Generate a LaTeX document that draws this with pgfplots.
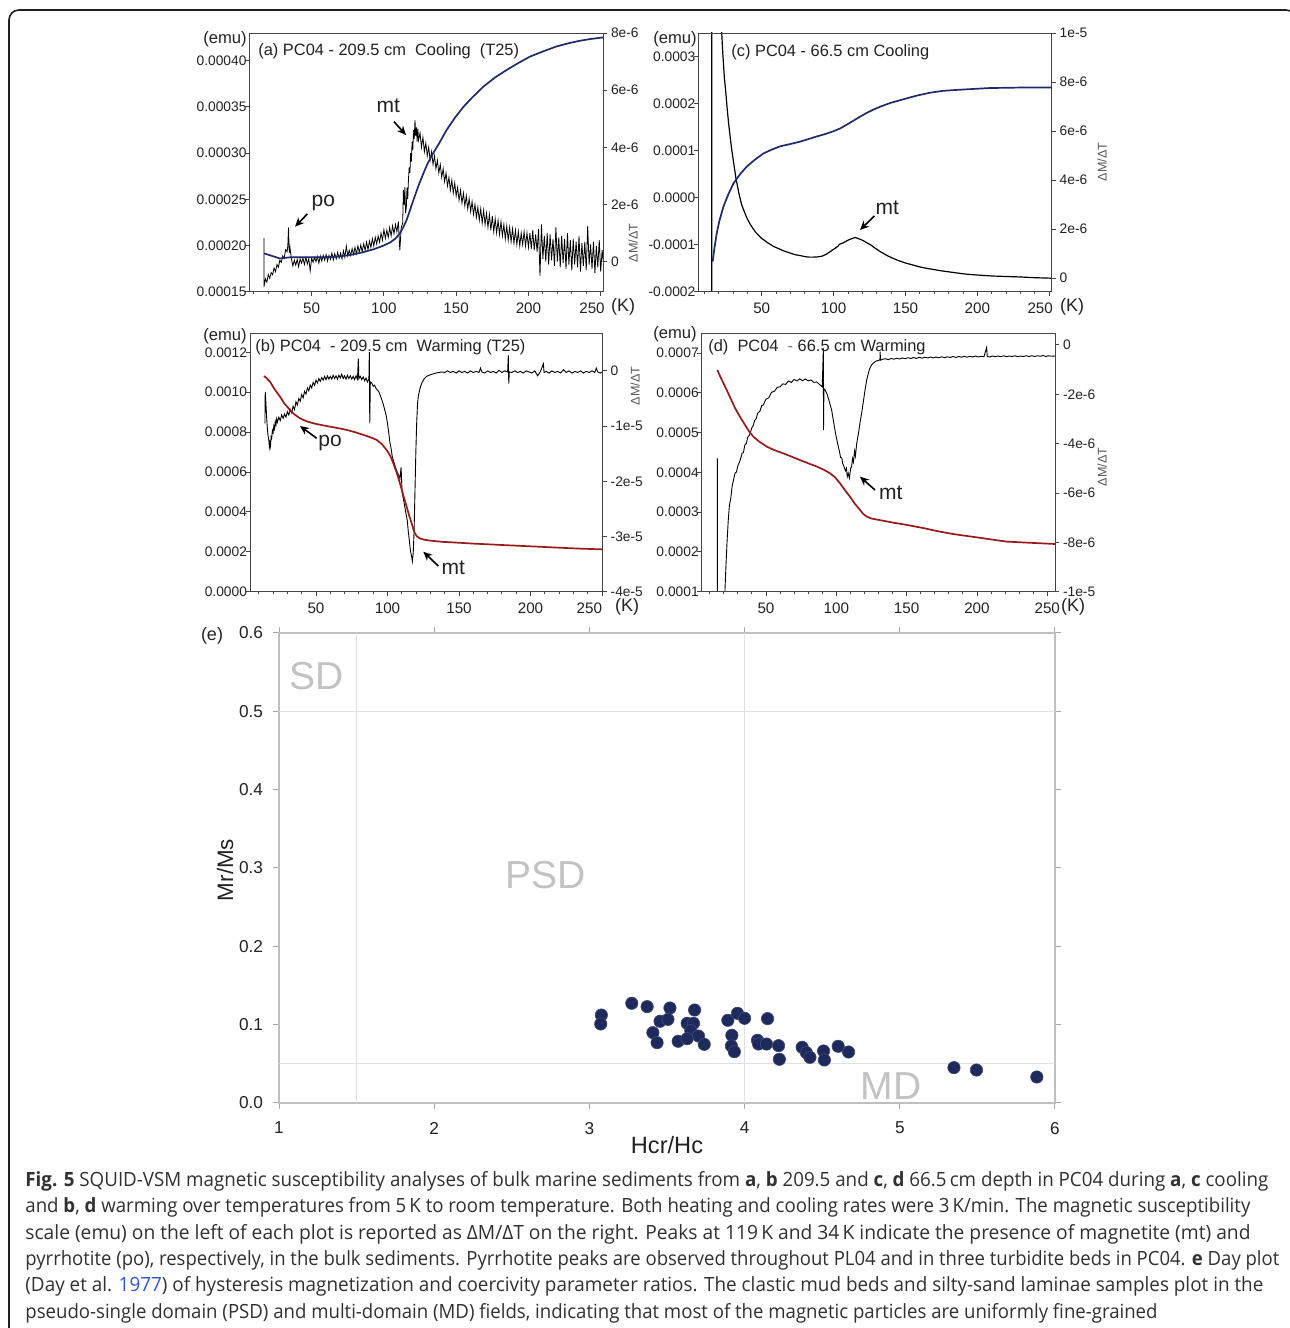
\documentclass[border=0pt]{standalone}
\usepackage{pgfplots}
\pgfplotsset{compat=1.18}
\usepackage{graphicx}
\usepackage{fontspec}
\setmainfont{Liberation Sans}
\newfontfamily\capfont{Open Sans}
\usetikzlibrary{arrows.meta}
\definecolor{navyc}{HTML}{1F2A6B}
\definecolor{redc}{HTML}{9A1A1A}
\definecolor{dots}{HTML}{1F2A5C}
\definecolor{axgray}{HTML}{444444}
\definecolor{zonegray}{HTML}{C2C2C2}
\definecolor{linkblue}{HTML}{2F55D4}
\definecolor{txt}{HTML}{222222}
\definecolor{captxt}{HTML}{303030}
\pgfplotsset{
  panel/.style={scale only axis, anchor=south west, clip=true,
    tick align=outside, major tick length=2.2pt, minor tick length=1.3pt,
    axis line style={draw=axgray, line width=0.45pt},
    tick style={draw=axgray, line width=0.45pt},
    yticklabel style={font=\fontsize{6.9}{7}\selectfont, text=txt},
    xticklabel style={font=\fontsize{7.6}{8}\selectfont, text=txt},
  },
  leftax/.style={panel, xtick pos=left, ytick pos=left, xtick={50,100,150,200,250}, minor xtick={10,20,...,250},
    yticklabel style={inner xsep=0pt, xshift=0.9pt}},
  rightax/.style={panel, hide x axis, ytick pos=right, yticklabel pos=right,
    yticklabel style={inner xsep=1.6pt}},
}
\begin{document}
\begin{tikzpicture}
\useasboundingbox (0,0) rectangle (645pt,664pt);

% ---------------- panel (a) ----------------
\begin{axis}[rightax, at={(124.75pt,518.15pt)}, width=176.75pt, height=129.35pt,
  xmin=7, xmax=251.6, ymin=-1.05, ymax=8, ytick={0,2,4,6,8}, yticklabels={0,2e-6,4e-6,6e-6,8e-6}]
\addplot[black, line width=0.4pt] table[row sep=\\]{
x y\\
17 0.82\\ 17 -0.88\\ 18 -0.6\\ 19 -0.72\\ 20 -0.45\\ 21 -0.58\\ 22 -0.38\\ 23 -0.46\\ 24 -0.22\\ 25 -0.35\\
26 -0.1\\ 27 -0.2\\ 28 0.05\\ 29 -0.02\\ 30 0.2\\ 31 0.12\\ 32 0.42\\ 33 0.35\\ 33.5 0.55\\ 34 1.2\\
34.5 0.3\\ 35 0.5\\ 36 0.1\\ 37 -0.15\\ 38 0.05\\ 39 -0.12\\ 40 0.08\\ 41 -0.18\\ 42 0.1\\ 43 -0.05\\
44 0.12\\ 45 -0.1\\ 46 0.15\\ 47 -0.08\\ 48 0.1\\ 49 -0.32\\ 50 0.12\\ 51 -0.02\\ 52 0.15\\ 53 0.0\\
54 0.18\\ 55 -0.05\\ 56 0.2\\ 57 0.02\\ 58 0.22\\ 59 0.05\\ 60 0.25\\ 61 0.02\\ 62 0.22\\ 63 0.08\\
64 0.3\\ 65 0.06\\ 66 0.28\\ 67 0.1\\ 68 0.32\\ 69 0.12\\ 70 0.3\\ 71 0.1\\ 72 0.38\\ 73 0.15\\
74 0.55\\ 75 0.2\\ 76 0.4\\ 77 0.22\\ 78 0.45\\ 79 0.25\\ 80 0.5\\ 81 0.28\\ 82 0.55\\ 83 0.32\\
84 0.58\\ 85 0.35\\ 86 0.62\\ 87 0.4\\ 88 0.68\\ 89 0.42\\ 90 0.72\\ 91 0.5\\ 92 0.8\\ 93 0.55\\
94 0.85\\ 95 0.62\\ 96 0.9\\ 97 0.68\\ 98 1.0\\ 99 0.75\\ 100 1.12\\ 101 0.82\\ 102 1.1\\ 103 0.85\\
104 1.2\\ 105 0.9\\ 106 1.25\\ 107 0.98\\ 108 1.3\\ 109 1.05\\ 110 1.4\\ 111 0.4\\ 112 1.2\\ 113 1.35\\
113.5 2.5\\ 114 2.0\\ 114.5 2.6\\ 115 1.7\\ 115.5 1.9\\ 116 2.6\\ 116.5 2.2\\ 117 2.9\\ 117.5 3.3\\ 118 3.1\\
118.5 3.8\\ 119 3.5\\ 119.5 4.2\\ 120 3.9\\ 120.5 4.6\\ 121 4.3\\ 121.5 4.95\\ 122 4.4\\ 122.5 4.7\\ 123 4.2\\
123.5 4.65\\ 124 4.25\\ 125 4.5\\ 126 4.0\\ 127 4.35\\ 128 3.85\\ 129 4.15\\ 130 3.7\\ 131 4.0\\ 132 3.55\\
133 3.85\\ 134 3.4\\ 135 3.7\\ 136 3.25\\ 137 3.55\\ 138 3.1\\ 139 3.4\\ 140 2.95\\ 141 3.25\\ 142 2.8\\
143 3.1\\ 144 2.65\\ 145 2.95\\ 146 2.5\\ 147 2.85\\ 148 2.4\\ 149 2.75\\ 150 2.3\\ 151 2.6\\ 152 2.15\\
153 2.5\\ 154 2.05\\ 155 2.4\\ 156 1.95\\ 157 2.3\\ 158 1.85\\ 159 2.2\\ 160 1.75\\ 161 2.1\\ 162 1.65\\
163 2.0\\ 164 1.55\\ 165 1.9\\ 166 1.45\\ 167 1.85\\ 168 1.35\\ 169 1.8\\ 170 1.3\\ 171 1.7\\ 172 1.2\\
173 1.65\\ 174 1.1\\ 175 1.6\\ 176 1.05\\ 177 1.5\\ 178 1.0\\ 179 1.45\\ 180 0.95\\ 181 1.4\\ 182 0.9\\
183 1.3\\ 184 0.8\\ 185 1.25\\ 186 0.75\\ 187 1.2\\ 188 0.7\\ 189 1.15\\ 190 0.65\\ 191 1.1\\ 192 0.6\\
193 1.05\\ 194 0.55\\ 195 1.0\\ 196 0.6\\ 197 1.05\\ 198 0.55\\ 199 1.0\\ 200 0.5\\ 201 1.0\\ 202 0.45\\
203 1.1\\ 204 0.4\\ 205 0.95\\ 206 0.35\\ 207 1.15\\ 208 -0.5\\ 209 1.3\\ 210 0.1\\ 211 0.9\\ 212 0.0\\
213 1.0\\ 214 -0.1\\ 215 0.95\\ 216 0.05\\ 217 0.8\\ 218 -0.15\\ 219 1.2\\ 220 0.0\\ 221 0.85\\ 222 -0.2\\
223 0.9\\ 224 -0.05\\ 225 0.8\\ 226 -0.25\\ 227 1.0\\ 228 -0.1\\ 229 0.75\\ 230 -0.3\\ 231 0.8\\ 232 -0.1\\
233 0.7\\ 234 -0.2\\ 235 0.9\\ 236 -0.35\\ 237 0.65\\ 238 -0.15\\ 239 0.7\\ 240 -0.3\\ 241 1.25\\ 242 -0.1\\
243 0.6\\ 244 -0.25\\ 245 0.7\\ 246 -0.4\\ 247 0.55\\ 248 -0.2\\ 249 0.75\\ 250 -0.35\\ 251 0.4\\ 252 -0.1\\
};
\end{axis}
\begin{axis}[leftax, at={(124.75pt,518.15pt)}, width=176.75pt, height=129.35pt,
  xmin=7, xmax=251.6, ymin=15, ymax=43, ytick={15,20,25,30,35,40},
  yticklabels={0.00015,0.00020,0.00025,0.00030,0.00035,0.00040},
  xticklabels={50,100,150,200,{\makebox[0pt][r]{250\hspace*{-2pt}}}}]
\addplot[navyc, line width=0.85pt] table[row sep=\\]{
x y\\
17 19.15\\ 22 18.9\\ 28 18.6\\ 35 18.72\\ 45 18.72\\ 58 18.72\\ 68 18.8\\ 76.5 18.97\\ 85 19.25\\ 92.7 19.58\\
99 19.95\\ 104 20.3\\ 108 20.75\\ 111 21.3\\ 113.5 22.0\\ 115.7 22.76\\ 118 23.8\\ 120.4 24.92\\ 124 26.5\\ 127.3 27.8\\
130 28.8\\ 134 29.97\\ 138 31.0\\ 143.4 32.5\\ 149 33.8\\ 155 35.0\\ 161 36.0\\ 168.8 37.19\\ 177 38.2\\ 185 39.0\\
193 39.75\\ 201 40.44\\ 210 41.0\\ 219.5 41.55\\ 228 41.9\\ 235.7 42.16\\ 243 42.35\\ 251.6 42.52\\
};
\end{axis}

% ---------------- panel (c) ----------------
\begin{axis}[rightax, at={(349.15pt,518.15pt)}, width=176.7pt, height=129.35pt,
  xmin=5.9, xmax=251.7, ymin=-0.55, ymax=10, ytick={0,2,4,6,8,10}, yticklabels={0,2e-6,4e-6,6e-6,8e-6,1e-5}]
\addplot[black, line width=0.6pt] table[row sep=\\]{
x y\\
15.2 -0.6\\ 15.2 12\\ 21.5 12\\ 22.2 10.0\\ 23 9.1\\ 24 8.2\\ 25 7.6\\ 26 6.9\\ 27 6.3\\ 28 5.8\\
29 5.3\\ 30 4.9\\ 31 4.5\\ 32 4.1\\ 33 3.8\\ 34 3.5\\ 35 3.25\\ 36 3.0\\ 37 2.85\\ 38 2.7\\
39 2.55\\ 40 2.42\\ 42 2.2\\ 44 2.02\\ 46 1.86\\ 48 1.74\\ 50 1.62\\ 52 1.54\\ 54 1.45\\ 56 1.38\\
58 1.3\\ 60 1.25\\ 62 1.2\\ 65 1.12\\ 68 1.06\\ 71 1.0\\ 74 0.95\\ 77 0.92\\ 80 0.88\\ 83 0.86\\
86 0.86\\ 89 0.87\\ 92 0.9\\ 95 0.98\\ 98 1.1\\ 101 1.22\\ 103 1.3\\ 104 1.38\\ 107 1.45\\ 110 1.55\\
113 1.62\\ 115 1.66\\ 117 1.62\\ 120 1.55\\ 123 1.45\\ 126 1.35\\ 129 1.22\\ 132 1.1\\ 135 1.0\\ 138 0.9\\
141 0.82\\ 145 0.72\\ 150 0.62\\ 155 0.54\\ 160 0.46\\ 165 0.4\\ 170 0.35\\ 175 0.3\\ 180 0.26\\ 185 0.22\\
190 0.18\\ 195 0.15\\ 200 0.13\\ 210 0.09\\ 220 0.07\\ 230 0.05\\ 240 0.02\\ 251.7 0.0\\
};
\end{axis}
\begin{axis}[leftax, at={(349.15pt,518.15pt)}, width=176.7pt, height=129.35pt,
  xmin=5.9, xmax=251.7, ymin=-2, ymax=3.5, ytick={-2,-1,0,1,2,3},
  yticklabels={-0.0002,-0.0001,0.0000,0.0001,0.0002,0.0003},
  xticklabels={50,100,150,200,{\makebox[0pt][r]{250\hspace*{-1.8pt}}}}]
\addplot[navyc, line width=0.85pt] table[row sep=\\]{
x y\\
15.9 -1.36\\ 17 -1.1\\ 18.7 -0.76\\ 20.5 -0.5\\ 23.4 -0.19\\ 26.5 0.05\\ 30.3 0.30\\ 35 0.5\\ 39.6 0.66\\ 45 0.8\\
51.2 0.94\\ 57 1.02\\ 62.7 1.09\\ 70 1.14\\ 76.6 1.19\\ 82 1.24\\ 88.2 1.30\\ 94 1.35\\ 99.8 1.41\\ 104.5 1.47\\
109.1 1.55\\ 113.5 1.63\\ 118.3 1.72\\ 123 1.80\\ 127.6 1.87\\ 133 1.94\\ 139.2 2.01\\ 145 2.06\\ 150.8 2.11\\ 158 2.17\\
167 2.23\\ 176 2.27\\ 185.5 2.29\\ 197 2.31\\ 208.7 2.33\\ 230 2.34\\ 251.7 2.34\\
};
\end{axis}

% ---------------- panel (b) ----------------
\begin{axis}[rightax, at={(125pt,368.15pt)}, width=176.35pt, height=129.2pt,
  xmin=3.85, xmax=250.5, ymin=-4, ymax=0.68, ytick={-4,-3,-2,-1,0}, yticklabels={-4e-5,-3e-5,-2e-5,-1e-5,0}]
\addplot[black, line width=0.45pt] table[row sep=\\]{
x y\\
14.3 -0.95\\ 14.5 -0.38\\ 15 -0.6\\ 15.5 -0.85\\ 16 -1.05\\ 16.5 -1.18\\ 17 -1.25\\ 17.4 -1.38\\ 17.8 -1.3\\ 18.2 -1.36\\
18.6 -1.2\\ 19 -1.22\\ 19.5 -1.08\\ 20 -1.12\\ 20.5 -1.0\\ 21 -1.05\\ 21.5 -0.92\\ 22 -0.98\\ 22.5 -0.87\\ 23 -0.93\\
24 -0.84\\ 25 -0.9\\ 26 -0.8\\ 27 -0.86\\ 28 -0.78\\ 29 -0.84\\ 30 -0.74\\ 31 -0.8\\ 32 -0.7\\ 33 -0.76\\
34 -0.64\\ 35 -0.7\\ 36 -0.56\\ 37 -0.62\\ 38 -0.5\\ 39 -0.55\\ 40 -0.43\\ 41 -0.49\\ 42 -0.37\\ 43 -0.42\\
44 -0.31\\ 45 -0.36\\ 46 -0.26\\ 47 -0.31\\ 48 -0.21\\ 49 -0.26\\ 50 -0.17\\ 51 -0.22\\ 52 -0.14\\ 53 -0.19\\
54 -0.12\\ 55 -0.17\\ 56 -0.1\\ 57 -0.16\\ 58 -0.09\\ 59 -0.15\\ 60 -0.1\\ 61 -0.15\\ 62 -0.08\\ 63 -0.14\\
64 -0.09\\ 65 -0.15\\ 66 -0.08\\ 67 -0.13\\ 68 -0.06\\ 69 -0.14\\ 70 -0.09\\ 71 -0.15\\ 72 -0.08\\ 73 -0.14\\
74 -0.09\\ 75 -0.15\\ 76 -0.1\\ 77 -0.16\\ 78 -0.09\\ 79 -0.15\\ 79.6 0.22\\ 80 -0.14\\ 81 -0.1\\ 82 -0.16\\
83 -0.11\\ 84 -0.18\\ 85 -0.13\\ 86 -0.2\\ 87 -0.15\\ 87.3 0.34\\ 87.6 -0.95\\ 88 -0.2\\ 89 -0.22\\ 90 -0.28\\
91 -0.26\\ 92 -0.32\\ 93 -0.35\\ 94 -0.38\\ 95 -0.45\\ 96 -0.52\\ 97 -0.6\\ 98 -0.7\\ 99 -0.8\\ 100 -0.95\\
101 -1.15\\ 101.7 -1.3\\ 102.5 -1.4\\ 103.3 -1.55\\ 104.1 -1.62\\ 105 -1.7\\ 106 -1.78\\ 107 -1.85\\ 108 -1.9\\ 108.7 -1.95\\
109.5 -1.75\\ 110.2 -2.2\\ 111 -2.3\\ 112 -2.45\\ 113 -2.6\\ 113.8 -2.7\\ 114.5 -2.9\\ 115.2 -3.05\\ 116 -3.25\\ 116.8 -3.35\\
117.4 -3.45\\ 118 -3.3\\ 118.6 -2.9\\ 119.2 -2.2\\ 119.8 -1.5\\ 120.4 -0.95\\ 121 -0.6\\ 121.6 -0.45\\ 122.7 -0.32\\ 124 -0.22\\
125.5 -0.15\\ 127.4 -0.1\\ 130 -0.07\\ 134 -0.04\\ 138 -0.02\\ 140 -0.03\\ 142 0.0\\ 144 -0.03\\ 146 -0.01\\ 148 -0.04\\
150 0.0\\ 152 -0.03\\ 154 -0.01\\ 156 -0.04\\ 158 0.0\\ 160 -0.03\\ 162 -0.01\\ 164 -0.03\\ 165 0.05\\ 166 -0.02\\
168 -0.04\\ 170 0.0\\ 172 -0.03\\ 174 -0.01\\ 176 -0.04\\ 178 0.01\\ 180 -0.03\\ 182 0.0\\ 184 -0.02\\ 184.5 0.28\\
184.8 -0.23\\ 185.2 -0.02\\ 187 -0.03\\ 189 0.0\\ 191 -0.03\\ 193 -0.01\\ 195 -0.04\\ 197 0.0\\ 199 -0.02\\ 201 -0.04\\
203 0.0\\ 205 -0.09\\ 207 -0.01\\ 209 0.13\\ 209.5 -0.03\\ 211 -0.01\\ 213 -0.04\\ 215 0.0\\ 217 -0.03\\ 219 -0.01\\
221 -0.04\\ 223 0.02\\ 225 -0.03\\ 227 0.0\\ 229 -0.04\\ 231 -0.01\\ 233 -0.03\\ 235 0.0\\ 237 -0.04\\ 239 -0.01\\
241 -0.03\\ 243 0.0\\ 245 -0.03\\ 246 0.05\\ 247 -0.02\\ 249 -0.04\\ 250.5 -0.01\\
};
\end{axis}
\begin{axis}[leftax, at={(125pt,368.15pt)}, width=176.35pt, height=129.2pt,
  xmin=3.85, xmax=250.5, ymin=0, ymax=12.95, ytick={0,2,4,6,8,10,12},
  yticklabels={0.0000,0.0002,0.0004,0.0006,0.0008,0.0010,0.0012},
  xticklabels={50,100,150,200,{\makebox[0pt][r]{250}}}]
\addplot[redc, line width=0.85pt] table[row sep=\\]{
x y\\
13.6 10.81\\ 15.5 10.7\\ 17.8 10.53\\ 21 10.15\\ 24.8 9.78\\ 28 9.42\\ 31.8 9.11\\ 35 8.88\\ 38.8 8.69\\ 43 8.55\\
48.1 8.44\\ 54 8.35\\ 59.8 8.27\\ 66 8.19\\ 71.4 8.11\\ 77 8.0\\ 83.1 7.86\\ 88 7.74\\ 92.4 7.61\\ 96 7.4\\
99.4 7.10\\ 102 6.8\\ 104.1 6.43\\ 106.5 5.95\\ 108.7 5.43\\ 111 4.85\\ 113.4 4.26\\ 115.2 3.8\\ 116.9 3.43\\ 118.2 3.1\\
119.2 2.92\\ 120.5 2.78\\ 122.7 2.67\\ 126 2.6\\ 129.7 2.56\\ 138 2.5\\ 148.4 2.46\\ 160 2.41\\ 171.7 2.37\\ 183 2.33\\
195 2.29\\ 207 2.25\\ 218.3 2.21\\ 234 2.16\\ 250.5 2.12\\
};
\end{axis}

% ---------------- panel (d) ----------------
\begin{axis}[rightax, at={(350.85pt,368.15pt)}, width=176.65pt, height=129.2pt,
  xmin=4.3, xmax=255.5, ymin=-10, ymax=0.47, ytick={-10,-8,-6,-4,-2,0}, yticklabels={-1e-5,-8e-6,-6e-6,-4e-6,-2e-6,0}]
\addplot[black, line width=0.45pt] table[row sep=\\]{
x y\\
15.4 -4.6\\ 15.4 -11\\ 19.5 -11\\ 20.8 -10\\ 21.5 -9\\ 22.3 -8\\ 23.2 -7.09\\ 24 -6.5\\ 25 -6.2\\ 26 -5.7\\
26.8 -5.5\\ 28 -5.2\\ 29 -5.15\\ 30 -4.9\\ 31.5 -4.7\\ 33 -4.4\\ 34 -4.35\\ 35 -4.05\\ 36 -4.0\\ 37 -3.75\\
38.6 -3.62\\ 40 -3.35\\ 41 -3.26\\ 42 -3.05\\ 43 -3.0\\ 44 -2.78\\ 45.7 -2.68\\ 47 -2.46\\ 48 -2.44\\ 50 -2.2\\
52 -2.14\\ 54 -1.92\\ 56 -1.88\\ 58 -1.72\\ 60 -1.7\\ 62 -1.58\\ 64 -1.6\\ 66 -1.46\\ 68 -1.52\\ 70 -1.4\\
72 -1.46\\ 74 -1.38\\ 76 -1.45\\ 78 -1.38\\ 80 -1.46\\ 82 -1.42\\ 84 -1.52\\ 86 -1.5\\ 88.4 -1.62\\ 90 -1.7\\
90.8 -0.14\\ 90.9 -3.45\\ 91.2 -1.78\\ 92 -1.82\\ 93.5 -2.0\\ 95 -2.3\\ 96.7 -2.64\\ 98 -3.1\\ 99.5 -3.6\\ 101.4 -4.12\\
102.2 -4.3\\ 103 -4.55\\ 104 -4.6\\ 104.5 -4.8\\ 105.5 -4.93\\ 106.5 -5.1\\ 107.2 -5.0\\ 107.8 -5.34\\ 108.5 -5.2\\ 109.3 -5.4\\
110.2 -5.0\\ 110.9 -4.93\\ 111.5 -4.6\\ 112.2 -4.75\\ 113 -4.3\\ 113.6 -4.5\\ 114.5 -4.0\\ 116 -3.5\\ 117 -3.1\\ 118 -2.77\\
119.5 -2.2\\ 120.5 -1.8\\ 121.6 -1.42\\ 123.5 -1.0\\ 125 -0.82\\ 126.3 -0.74\\ 128 -0.66\\ 130 -0.63\\ 131 -0.61\\ 131.2 -0.27\\
131.4 -0.62\\ 133 -0.58\\ 135 -0.56\\ 137 -0.6\\ 139 -0.55\\ 141 -0.58\\ 143 -0.54\\ 145 -0.57\\ 147 -0.53\\ 149 -0.56\\
151 -0.52\\ 153 -0.55\\ 155 -0.51\\ 157 -0.55\\ 159 -0.5\\ 161 -0.54\\ 163 -0.5\\ 165 -0.53\\ 167 -0.49\\ 169 -0.53\\
171 -0.49\\ 173 -0.52\\ 175 -0.48\\ 177 -0.52\\ 179 -0.48\\ 181 -0.51\\ 183 -0.47\\ 185 -0.51\\ 187 -0.47\\ 189 -0.5\\
191 -0.46\\ 193 -0.5\\ 195 -0.46\\ 197 -0.49\\ 199 -0.45\\ 201 -0.49\\ 203 -0.46\\ 205 -0.48\\ 206.9 -0.1\\ 207.3 -0.47\\
209 -0.49\\ 211 -0.45\\ 213 -0.48\\ 215 -0.45\\ 217 -0.48\\ 219 -0.44\\ 221 -0.48\\ 223 -0.45\\ 225 -0.47\\ 227 -0.44\\
229 -0.48\\ 231 -0.45\\ 233 -0.47\\ 235 -0.44\\ 237 -0.47\\ 239 -0.44\\ 241 -0.47\\ 243 -0.44\\ 245 -0.46\\ 247 -0.43\\
249 -0.47\\ 251 -0.44\\ 253 -0.46\\ 255.5 -0.45\\
};
\end{axis}
\begin{axis}[leftax, at={(350.85pt,368.15pt)}, width=176.65pt, height=129.2pt,
  xmin=4.3, xmax=255.5, ymin=1, ymax=7.5, ytick={1,2,3,4,5,6,7},
  yticklabels={0.0001,0.0002,0.0003,0.0004,0.0005,0.0006,0.0007},
  xticklabels={50,100,150,200,250}]
\addplot[redc, line width=0.85pt] table[row sep=\\]{
x y\\
15.4 6.58\\ 17 6.45\\ 19 6.3\\ 22 6.08\\ 25 5.85\\ 28 5.62\\ 31.5 5.40\\ 35 5.2\\ 38 5.03\\ 41 4.9\\
45 4.78\\ 50.5 4.65\\ 56 4.56\\ 62.3 4.48\\ 68 4.4\\ 74.2 4.31\\ 80 4.23\\ 86 4.15\\ 91 4.07\\ 95.5 3.98\\
99 3.88\\ 102.6 3.73\\ 106 3.56\\ 109.7 3.39\\ 113 3.22\\ 116.8 3.06\\ 119 2.96\\ 121.6 2.89\\ 125 2.84\\ 131 2.80\\
140 2.74\\ 150 2.68\\ 162 2.6\\ 173.7 2.51\\ 185 2.44\\ 197.4 2.38\\ 209 2.32\\ 221.1 2.26\\ 238 2.23\\ 255.5 2.2\\
};
\end{axis}

% ---------------- panel (e) Day plot ----------------
\begin{axis}[scale only axis, anchor=south west, at={(139.5pt,112.5pt)}, width=388pt, height=235pt,
  xmin=1, xmax=6, ymin=0, ymax=0.6, clip=false,
  xtick={1,2,3,4,5,6}, xticklabels={1,2,3,4,5,6},
  ytick={0,0.1,0.2,0.3,0.4,0.5,0.6}, yticklabels={0.0,0.1,0.2,0.3,0.4,0.5,0.6},
  tick align=outside, major tick length=3pt,
  x axis line style={draw=black!38, line width=0.85pt},
  y axis line style={draw=black!25, line width=0.6pt},
  tick style={draw=black!35, line width=0.5pt},
  xticklabel style={font=\fontsize{8.6}{9}\selectfont, text=txt, yshift=-3pt},
  yticklabel style={font=\fontsize{8.6}{9}\selectfont, text=txt, xshift=-1.5pt},
]
\draw[black!12, line width=0.6pt] (axis cs:1,0.5) -- (axis cs:6,0.5);
\draw[black!12, line width=0.6pt] (axis cs:1,0.05) -- (axis cs:6,0.05);
\draw[black!12, line width=0.6pt] (axis cs:1.5,0) -- (axis cs:1.5,0.6);
\draw[black!12, line width=0.6pt] (axis cs:4,0) -- (axis cs:4,0.6);
\addplot[only marks, mark=*, mark size=3.1pt, mark options={fill=dots, draw=dots!85!white, line width=0.3pt}] table[row sep=\\]{
x y\\
3.077 0.1123\\ 3.073 0.1009\\ 3.273 0.1273\\ 3.372 0.1230\\ 3.519 0.1213\\ 3.455 0.1043\\ 3.506 0.1068\\ 3.409 0.0898\\
3.436 0.0770\\ 3.572 0.0788\\ 3.678 0.1187\\ 3.630 0.1017\\ 3.671 0.1017\\ 3.653 0.0923\\ 3.703 0.0855\\ 3.630 0.0821\\
3.740 0.0749\\ 3.892 0.1056\\ 3.954 0.1145\\ 4.000 0.1081\\ 3.918 0.0864\\ 3.915 0.0728\\ 3.934 0.0655\\ 4.148 0.1077\\
4.083 0.0800\\ 4.090 0.0753\\ 4.141 0.0753\\ 4.219 0.0732\\ 4.224 0.0558\\ 4.371 0.0711\\ 4.398 0.0643\\ 4.421 0.0583\\
4.509 0.0664\\ 4.514 0.0549\\ 4.603 0.0724\\ 4.670 0.0651\\ 5.349 0.0451\\ 5.494 0.0421\\ 5.883 0.0332\\
};
\end{axis}

% ---------------- annotations (pixel coordinates) ----------------
\begin{scope}[shift={(0pt,664pt)}, x=0.5pt, y=-0.5pt]
\draw[black!88, line width=0.8pt, rounded corners=5pt] (9,1400) -- (9,10) -- (1296,10) -- (1296,1400);
% emu labels
\foreach \p in {(225,39),(675,39),(225,336),(675,334)}
  \node[font=\fontsize{8.3}{9}\selectfont, text=txt, inner sep=0] at \p {(emu)};
% K labels
\foreach \p in {(623,307),(1072,307),(627,607),(1073,607)}
  \node[font=\fontsize{9}{10}\selectfont, text=txt, inner sep=0] at \p {(K)};
% Delta M / Delta T
\foreach \p in {(633,243),(1102,162),(635,386),(1102,467)}
  \node[font=\fontsize{6.3}{7}\selectfont, text=black!65, rotate=90, inner sep=0] at \p {ΔM/ΔT};
% panel titles
\node[font=\fontsize{8.2}{9}\selectfont, text=txt, anchor=west, inner sep=0] at (258,51) {(a) PC04 - 209.5 cm\ \ Cooling\ \ (T25)};
\node[font=\fontsize{8.2}{9}\selectfont, text=txt, anchor=west, inner sep=0] at (731,52) {(c) PC04 - 66.5 cm Cooling};
\node[font=\fontsize{8.2}{9}\selectfont, text=txt, anchor=west, inner sep=0] at (255,347) {(b) PC04\ \ - 209.5 cm\ \ Warming (T25)};
\node[font=\fontsize{8.2}{9}\selectfont, text=txt, anchor=west, inner sep=0] at (708,347) {(d)\ \ PC04\ \ \textcolor{black!55}{-}\ 66.5 cm Warming};
% mt / po annotations
\tikzset{ann/.style={-{Stealth[length=4.5pt,width=4pt]}, line width=0.8pt, black}}
\node[font=\fontsize{10.5}{11}\selectfont, text=txt] at (388.3,106) {mt};
\draw[ann] (394,121.7) -- (406,135);
\node[font=\fontsize{10.5}{11}\selectfont, text=txt] at (323.3,203) {po};
\draw[ann] (307.3,214) -- (295,226.7);
\node[font=\fontsize{10.5}{11}\selectfont, text=txt] at (887.3,208) {mt};
\draw[ann] (874.3,216) -- (860,230);
\node[font=\fontsize{10.5}{11}\selectfont, text=txt] at (330,443) {po};
\draw[ann] (316.7,438.3) -- (300,426);
\node[font=\fontsize{10.5}{11}\selectfont, text=txt] at (453.3,568) {mt};
\draw[ann] (438.3,566) -- (423.3,551.7);
\node[font=\fontsize{10.5}{11}\selectfont, text=txt] at (890.7,493) {mt};
\draw[ann] (875,490) -- (860,476.7);
% Day plot texts
\node[font=\fontsize{9}{10}\selectfont, text=txt] at (212,636) {(e)};
\node[font=\fontsize{19.5}{20}\selectfont, text=zonegray] at (317,676) {SD};
\node[font=\fontsize{19.5}{20}\selectfont, text=zonegray] at (546,875) {PSD};
\node[font=\fontsize{19.5}{20}\selectfont, text=zonegray] at (891,1086) {MD};
\node[font=\fontsize{11.8}{12}\selectfont, text=txt] at (667,1145) {Hcr/Hc};
\node[font=\fontsize{11.2}{12}\selectfont, text=txt, rotate=90] at (225,870) {Mr/Ms};
% caption
\tikzset{capline/.style={anchor=base west, inner sep=0, text=captxt, font=\capfont\fontsize{9.8}{12}\selectfont}}
\node[capline] at (25,1187) {\resizebox{621.5pt}{\height}{\textbf{Fig. 5} SQUID-VSM magnetic susceptibility analyses of bulk marine sediments from \textbf{a}, \textbf{b} 209.5 and \textbf{c}, \textbf{d} 66.5\,cm depth in PC04 during \textbf{a}, \textbf{c} cooling}};
\node[capline] at (25,1213) {\resizebox{612.5pt}{\height}{and \textbf{b}, \textbf{d} warming over temperatures from 5\,K to room temperature. Both heating and cooling rates were 3\,K/min. The magnetic susceptibility}};
\node[capline] at (25,1239.5) {\resizebox{612.5pt}{\height}{scale (emu) on the left of each plot is reported as ΔM/ΔT on the right. Peaks at 119\,K and 34\,K indicate the presence of magnetite (mt) and}};
\node[capline] at (25,1266) {\resizebox{627pt}{\height}{pyrrhotite (po), respectively, in the bulk sediments. Pyrrhotite peaks are observed throughout PL04 and in three turbidite beds in PC04. \textbf{e} Day plot}};
\node[capline] at (25,1292) {\resizebox{619pt}{\height}{(Day et al. \textcolor{linkblue}{1977}) of hysteresis magnetization and coercivity parameter ratios. The clastic mud beds and silty-sand laminae samples plot in the}};
\node[capline] at (25,1318) {\resizebox{566pt}{\height}{pseudo-single domain (PSD) and multi-domain (MD) fields, indicating that most of the magnetic particles are uniformly fine-grained}};
\end{scope}
\end{tikzpicture}
\end{document}
